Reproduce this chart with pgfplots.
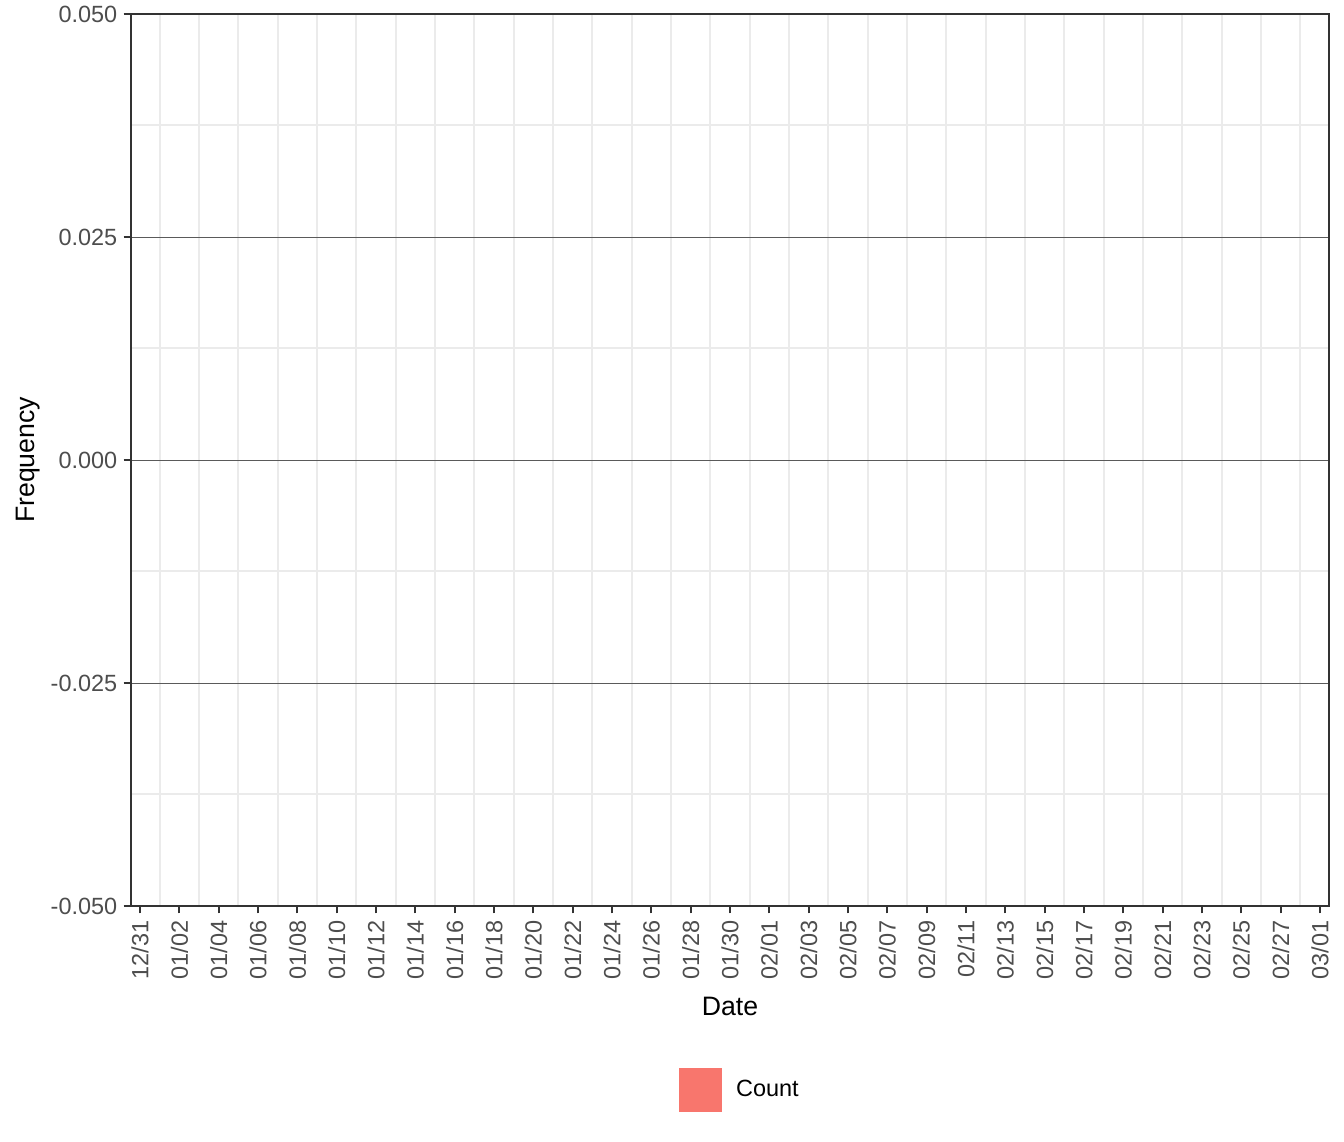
\documentclass[border=0pt]{standalone}
\usepackage{pgfplots}
\pgfplotsset{compat=1.18}
\usepackage{fontspec}
\setmainfont{Liberation Sans}
\definecolor{ggred}{HTML}{F8766D}
\definecolor{gridgray}{HTML}{EBEBEB}
\definecolor{tickgray}{HTML}{4D4D4D}
\definecolor{bordergray}{HTML}{333333}
\definecolor{hlinegray}{HTML}{5A5A5A}
\begin{document}
\begin{tikzpicture}
\useasboundingbox (-49.125pt,-88.5pt) rectangle (454.875pt,339.75pt);
\begin{axis}[
  at={(0pt,0pt)}, anchor=south west,
  scale only axis,
  width=449.25pt, height=334.5pt,
  xmin=-0.46, xmax=60.46,
  ymin=-0.05, ymax=0.05,
  xtick={0,2,...,60},
  xticklabels={12/31,01/02,01/04,01/06,01/08,01/10,01/12,01/14,01/16,01/18,01/20,01/22,01/24,01/26,01/28,01/30,02/01,02/03,02/05,02/07,02/09,02/11,02/13,02/15,02/17,02/19,02/21,02/23,02/25,02/27,03/01},
  ytick={-0.05,-0.025,0,0.025,0.05},
  yticklabels={-0.050,-0.025,0.000,0.025,0.050},
  minor x tick num=1,
  minor y tick num=1,
  xmajorgrids=false, xminorgrids=true,
  ymajorgrids=true, yminorgrids=true,
  minor grid style={gridgray, line width=0.75pt},
  major grid style={hlinegray, line width=0.3pt},
  minor tick length=0pt,
  major tick length=2.75pt,
  tick align=outside,
  tick style={bordergray, line width=0.8pt},
  xtick pos=bottom, ytick pos=left,
  axis line style={bordergray, line width=0.8pt},
  axis on top,
  ticklabel style={font=\fontsize{8.8}{10}\selectfont, text=tickgray},
  /pgf/number format/assume math mode=true,
  xticklabel style={rotate=90, anchor=east, inner sep=0pt},
  yticklabel style={inner sep=0pt},
  xticklabel shift=2.6pt,
  yticklabel shift=2.2pt,
  xlabel={Date}, ylabel={Frequency},
  label style={font=\fontsize{11}{13}\selectfont, text=black},
  every axis x label/.style={at={(axis description cs:0.5,-0.1121)}, anchor=center},
  every axis y label/.style={at={(axis description cs:-0.086,0.5)}, rotate=90, anchor=center},
  legend style={at={(axis description cs:0.4566,-0.2063)}, anchor=west, draw=none, fill=none, inner sep=0pt, font=\fontsize{8.8}{10}\selectfont},
  legend cell align=left,
]
\addlegendimage{legend image code/.code={\fill[ggred] (0pt,-7.875pt) rectangle (15.75pt,7.875pt); \path (19.2pt,0pt);}}
\addlegendentry{Count}
\end{axis}
\end{tikzpicture}
\end{document}
